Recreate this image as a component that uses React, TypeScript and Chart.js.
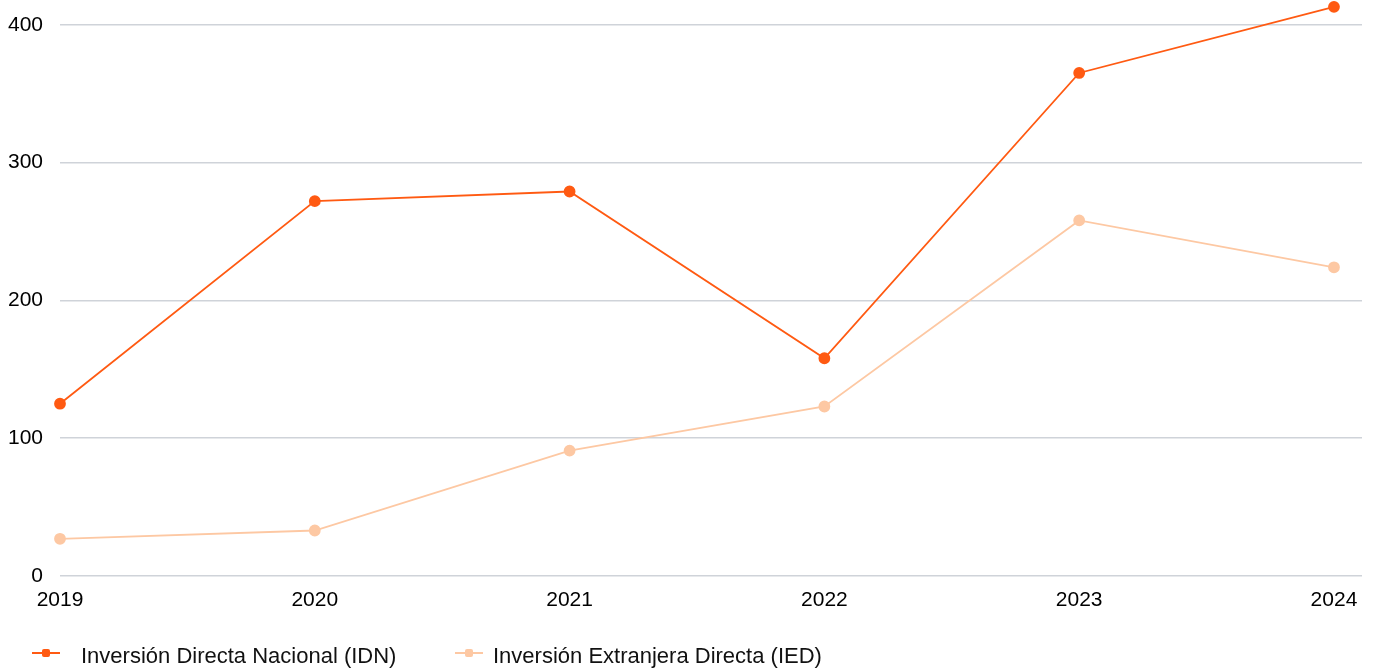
import React, { useEffect, useRef } from "react";
import { Chart, registerables } from "chart.js";

Chart.register(...registerables);

const years = [2019, 2020, 2021, 2022, 2023, 2024];
const idnValues = [125, 272, 279, 158, 365, 413];
const iedValues = [27, 33, 91, 123, 258, 224];
const yTicks = [0, 100, 200, 300, 400];
const seriesNames = ["Inversión Directa Nacional (IDN)", "Inversión Extranjera Directa (IED)"];
const seriesColors = ["#FF5A12", "#FDC8A3"];

const FONT = "'Liberation Sans', Arial, Helvetica, sans-serif";

export default function App() {
  const ref = useRef<HTMLCanvasElement | null>(null);

  useEffect(() => {
    if (!ref.current) return;
    const chart = new Chart(ref.current, {
      type: "line",
      data: {
        datasets: [
          {
            label: seriesNames[0],
            data: years.map((y, i) => ({ x: y, y: idnValues[i] })),
            borderColor: seriesColors[0],
            backgroundColor: seriesColors[0],
            pointBackgroundColor: seriesColors[0],
            pointBorderColor: seriesColors[0],
            borderWidth: 1.8,
            pointRadius: 5,
            tension: 0,
            clip: false as any,
          },
          {
            label: seriesNames[1],
            data: years.map((y, i) => ({ x: y, y: iedValues[i] })),
            borderColor: seriesColors[1],
            backgroundColor: seriesColors[1],
            pointBackgroundColor: seriesColors[1],
            pointBorderColor: seriesColors[1],
            borderWidth: 1.8,
            pointRadius: 5,
            tension: 0,
            clip: false as any,
          },
        ],
      },
      options: {
        animation: false,
        responsive: false,
        maintainAspectRatio: false,
        layout: { padding: { top: 6, left: 0, right: 12, bottom: 53 } },
        plugins: {
          legend: { display: false },
          tooltip: { enabled: false },
        },
        scales: {
          x: {
            type: "linear",
            min: 2019,
            max: 2024.11,
            border: { display: false },
            grid: { display: false, drawTicks: false },
            afterBuildTicks: (scale: any) => {
              scale.ticks = years.map((v) => ({ value: v }));
            },
            afterFit: (scale: any) => {
              scale.height = 40;
            },
            ticks: {
              color: "#000",
              font: { family: FONT, size: 21 },
              padding: 12,
              maxRotation: 0,
              autoSkip: false,
              callback: (v: any) => String(v),
            },
          },
          y: {
            min: 0,
            max: 413,
            border: { display: false },
            grid: { color: "#cfd3d9", lineWidth: 1.5, drawTicks: false },
            afterBuildTicks: (scale: any) => {
              scale.ticks = yTicks.map((v) => ({ value: v }));
            },
            afterFit: (scale: any) => {
              scale.width = 60;
              scale.paddingTop = 0;
              scale.paddingBottom = 0;
            },
            ticks: {
              color: "#000",
              font: { family: FONT, size: 21 },
              padding: 17,
              callback: (v: any) => String(v),
            },
          },
        },
      },
    });
    return () => chart.destroy();
  }, []);

  const legendItem = (i: number, left: number, textLeft: number) => (
    <div key={i}>
      <div
        style={{
          position: "absolute",
          left,
          top: 652,
          width: 28,
          height: 2,
          background: seriesColors[i],
        }}
      />
      <div
        style={{
          position: "absolute",
          left: left + 10,
          top: 649,
          width: 8,
          height: 8,
          borderRadius: 2,
          background: seriesColors[i],
        }}
      />
      <div
        style={{
          position: "absolute",
          left: textLeft,
          top: 642,
          fontFamily: FONT,
          fontSize: 22,
          lineHeight: "28px",
          color: "#111",
          whiteSpace: "nowrap",
        }}
      >
        {seriesNames[i]}
      </div>
    </div>
  );

  return (
    <div style={{ position: "absolute", left: 0, top: 0, width: 1374, height: 669, background: "#fff" }}>
      <canvas ref={ref} width={1374} height={669} style={{ position: "absolute", left: 0, top: 0 }} />
      {legendItem(0, 32, 81)}
      {legendItem(1, 455, 493)}
    </div>
  );
}
